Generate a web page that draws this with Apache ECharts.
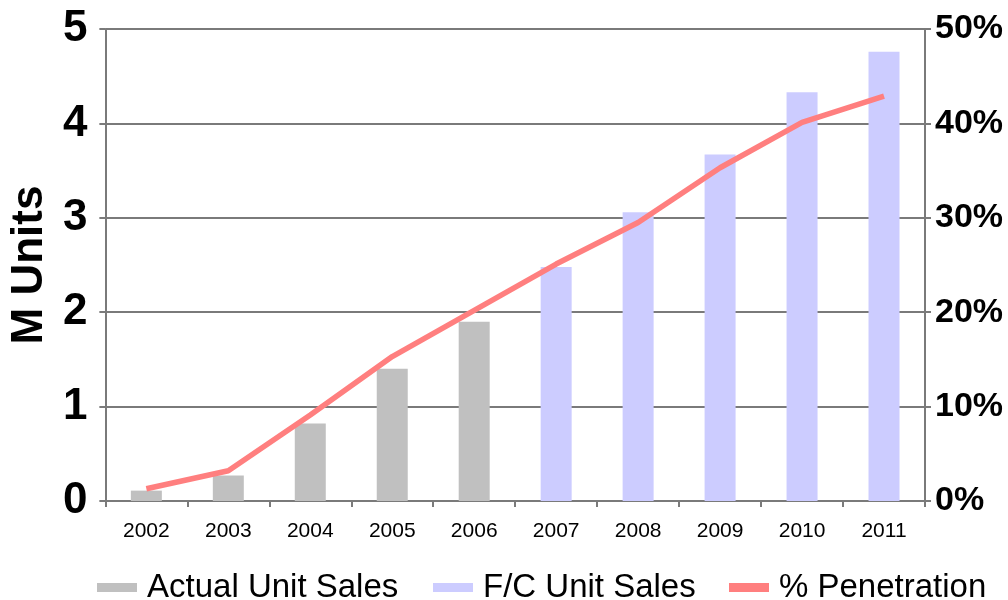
<!DOCTYPE html>
<html>
<head>
<meta charset="utf-8">
<script src="https://cdn.jsdelivr.net/npm/echarts@6/dist/echarts.min.js"></script>
<style>html,body{margin:0;padding:0;background:#fff}#c{width:1008px;height:600px}</style>
</head>
<body>
<div id="c"></div>
<script>
const years = ['2002','2003','2004','2005','2006','2007','2008','2009','2010','2011'];
const actualSales = [0.11, 0.27, 0.82, 1.40, 1.90, '-', '-', '-', '-', '-'];
const forecastSales = ['-', '-', '-', '-', '-', 2.48, 3.06, 3.67, 4.33, 4.76];
const penetration = [1.3, 3.2, 9.1, 15.3, 20.2, 25.1, 29.5, 35.3, 40.1, 42.9];
const leftTicks = [0, 1, 2, 3, 4, 5];
const rightTicks = [0, 10, 20, 30, 40, 50];

const font = 'Arial, "Liberation Sans", sans-serif';
const axisGrey = '#7a7a7a';
const chart = echarts.init(document.getElementById('c'), null, {renderer: 'canvas'});
const legendText = {fontFamily: font, fontSize: 33, color: '#000', padding: [0, 0, 0, 5]};
chart.setOption({
  animation: false,
  grid: {left: 104, right: 83, top: 29, bottom: 99, containLabel: false},
  legend: [
    {data: [{name: 'Actual Unit Sales', icon: 'rect'}], left: 92, top: 566, itemWidth: 40, itemHeight: 9, textStyle: legendText},
    {data: [{name: 'F/C Unit Sales', icon: 'rect'}], left: 428, top: 566, itemWidth: 40, itemHeight: 9, textStyle: legendText},
    {data: [{name: '% Penetration', icon: 'rect'}], left: 724, top: 566, itemWidth: 40, itemHeight: 9, textStyle: legendText}
  ],
  xAxis: {
    type: 'category',
    data: years,
    axisLine: {lineStyle: {color: axisGrey, width: 2}},
    axisTick: {show: true, length: 6, lineStyle: {color: axisGrey, width: 2}},
    axisLabel: {fontFamily: font, fontSize: 21, color: '#000', margin: 20}
  },
  yAxis: [
    {
      type: 'value', min: leftTicks[0], max: leftTicks[leftTicks.length - 1], interval: 1,
      name: 'M Units', nameLocation: 'middle', nameGap: 52, nameRotate: 90,
      nameTextStyle: {fontFamily: font, fontSize: 44, fontWeight: 'bold', color: '#000'},
      axisLine: {show: true, lineStyle: {color: axisGrey, width: 2}},
      axisTick: {show: true, length: 6, lineStyle: {color: axisGrey, width: 2}},
      axisLabel: {fontFamily: font, fontSize: 44, fontWeight: 'bold', color: '#000', margin: 18},
      splitLine: {show: true, lineStyle: {color: axisGrey, width: 2}}
    },
    {
      type: 'value', min: rightTicks[0], max: rightTicks[rightTicks.length - 1], interval: 10,
      position: 'right',
      axisLine: {show: true, lineStyle: {color: axisGrey, width: 2}},
      axisTick: {show: true, length: 6, lineStyle: {color: axisGrey, width: 2}},
      axisLabel: {fontFamily: font, fontSize: 34, fontWeight: 'bold', color: '#000', margin: 10, formatter: '{value}%'},
      splitLine: {show: false}
    }
  ],
  series: [
    {name: 'Actual Unit Sales', type: 'bar', stack: 's', barWidth: 31, data: actualSales, itemStyle: {color: '#c0c0c0'}, z: 2},
    {name: 'F/C Unit Sales', type: 'bar', stack: 's', barWidth: 31, data: forecastSales, itemStyle: {color: '#ccccff'}, z: 2},
    {name: '% Penetration', type: 'line', yAxisIndex: 1, data: penetration, showSymbol: false, symbol: 'none',
     lineStyle: {color: '#ff7f7f', width: 5.5}, itemStyle: {color: '#ff7f7f'}, z: 3}
  ]
});
</script>
</body>
</html>
